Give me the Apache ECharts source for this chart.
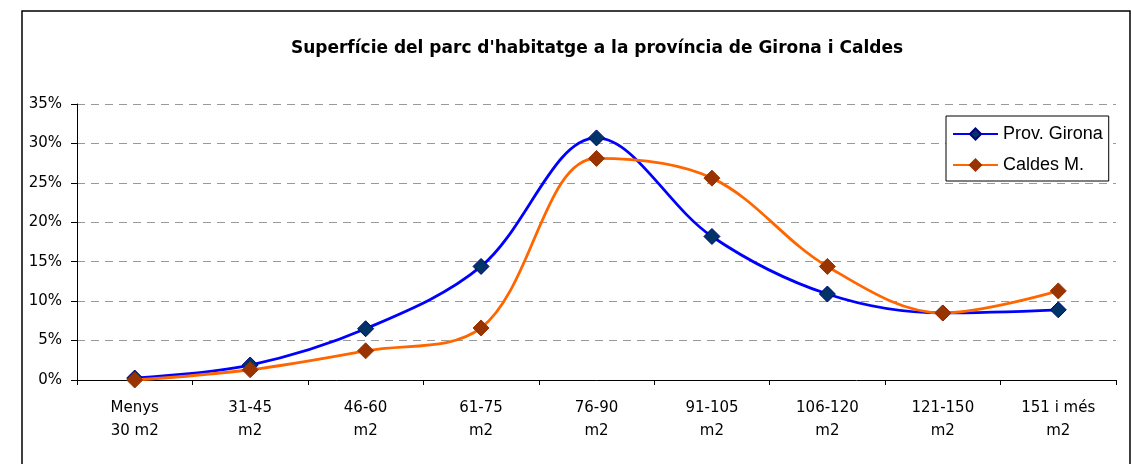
<!DOCTYPE html>
<html>
<head>
<meta charset="utf-8">
<script src="https://cdn.jsdelivr.net/npm/echarts@6/dist/echarts.min.js"></script>
<style>
  html, body { margin: 0; padding: 0; background: #fff; }
  #chart { width: 1131px; height: 464px; }
</style>
</head>
<body>
<div id="chart"></div>
<script>
// categories (superficie)
const categories = ['Menys\n30 m2', '31-45\nm2', '46-60\nm2', '61-75\nm2', '76-90\nm2', '91-105\nm2', '106-120\nm2', '121-150\nm2', '151 i més\nm2']
// % del parc d'habitatge
const girona = [0.25, 1.9, 6.5, 14.4, 30.7, 18.2, 10.9, 8.5, 8.9]
const caldes = [0.0, 1.3, 3.7, 6.6, 28.1, 25.6, 14.4, 8.5, 11.3]

const chart = echarts.init(document.getElementById('chart'))
const font = 'Liberation Sans, Arial, sans-serif'
const wide = 'DejaVu Sans, sans-serif'

chart.setOption({
  animation: false,
  textStyle: { fontFamily: font },
  title: {
    text: "Superfície del parc d'habitatge a la província de Girona i Caldes",
    left: 592,
    textAlign: 'center',
    top: 35,
    textStyle: { fontSize: 17, fontWeight: 'bold', color: '#000', fontFamily: wide }
  },
  graphic: [{
    type: 'rect',
    shape: { x: 22, y: 11, width: 1108, height: 470 },
    style: { fill: 'none', stroke: '#000', lineWidth: 1.5 },
    silent: true
  }],
  legend: {
    orient: 'vertical',
    left: 946,
    top: 116,
    width: 165,
    padding: [8, 6, 6, 6],
    itemGap: 11,
    itemWidth: 45,
    itemHeight: 14,
    backgroundColor: '#fff',
    borderColor: '#000',
    borderWidth: 1,
    textStyle: { fontSize: 18, lineHeight: 20, color: '#000', fontFamily: font },
    data: ['Prov. Girona', 'Caldes M.']
  },
  grid: { left: 77, right: 15, top: 104, bottom: 84 },
  xAxis: {
    type: 'category',
    data: categories,
    boundaryGap: true,
    axisLine: { lineStyle: { color: '#000', width: 1 } },
    axisTick: { show: true, lineStyle: { color: '#000' }, length: 5 },
    axisLabel: { color: '#000', fontSize: 15, lineHeight: 23, margin: 17, interval: 0, fontFamily: wide }
  },
  yAxis: {
    type: 'value',
    min: 0,
    max: 35,
    interval: 5,
    axisLine: { show: true, lineStyle: { color: '#000', width: 1 } },
    axisTick: { show: true, lineStyle: { color: '#000' }, length: 6 },
    axisLabel: { formatter: '{value}%', color: '#000', fontSize: 15, margin: 15, fontFamily: wide },
    splitLine: { lineStyle: { color: '#999', type: [8, 6], width: 1 } }
  },
  series: [
    {
      name: 'Prov. Girona',
      type: 'line',
      data: girona,
      smooth: 0.35,
      symbol: 'diamond',
      symbolSize: 16,
      lineStyle: { color: '#0000ff', width: 2.8 },
      itemStyle: { color: '#003366', borderColor: '#000080', borderWidth: 1 },
      color: '#0000ff',
      z: 3
    },
    {
      name: 'Caldes M.',
      type: 'line',
      data: caldes,
      smooth: 0.35,
      symbol: 'diamond',
      symbolSize: 16,
      lineStyle: { color: '#ff6600', width: 2.8 },
      itemStyle: { color: '#993300', borderColor: '#993300', borderWidth: 1 },
      color: '#ff6600',
      z: 4
    }
  ]
})
</script>
</body>
</html>
